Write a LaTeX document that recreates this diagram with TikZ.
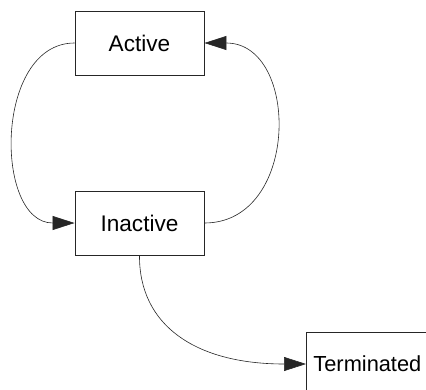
\documentclass[tikz,border=0pt]{standalone}
\usepackage{fontspec}
\setmainfont{Liberation Sans}
\usetikzlibrary{arrows.meta}
\begin{document}
\begin{tikzpicture}[x=1pt,y=-1pt,
  statebox/.style={draw=black!85, line width=0.9pt, minimum width=129pt, minimum height=64pt, inner sep=0pt, font=\fontsize{22.6}{25}\selectfont},
  conn/.style={draw=black!85, line width=0.6pt, -{Triangle[length=22pt,width=14pt]}}]
\useasboundingbox (0,0) rectangle (426,389);
\clip (0,0) rectangle (426,389);
\node[statebox] (active) at (139.5,43) {Active};
\node[statebox] (inactive) at (139.5,223) {Inactive};
\node[statebox, anchor=west, minimum width=0pt, inner xsep=7pt, font=\fontsize{21.8}{24}\selectfont] (term) at (306,364) {Terminated};
\draw[conn] (active.west) .. controls (-6,43) and (-6,223) .. (inactive.west);
\draw[conn] (inactive.east) .. controls (300,223) and (300,43) .. (active.east);
\draw[conn] (inactive.south) .. controls (139,325) and (195,364) .. (term.west);
\end{tikzpicture}
\end{document}
